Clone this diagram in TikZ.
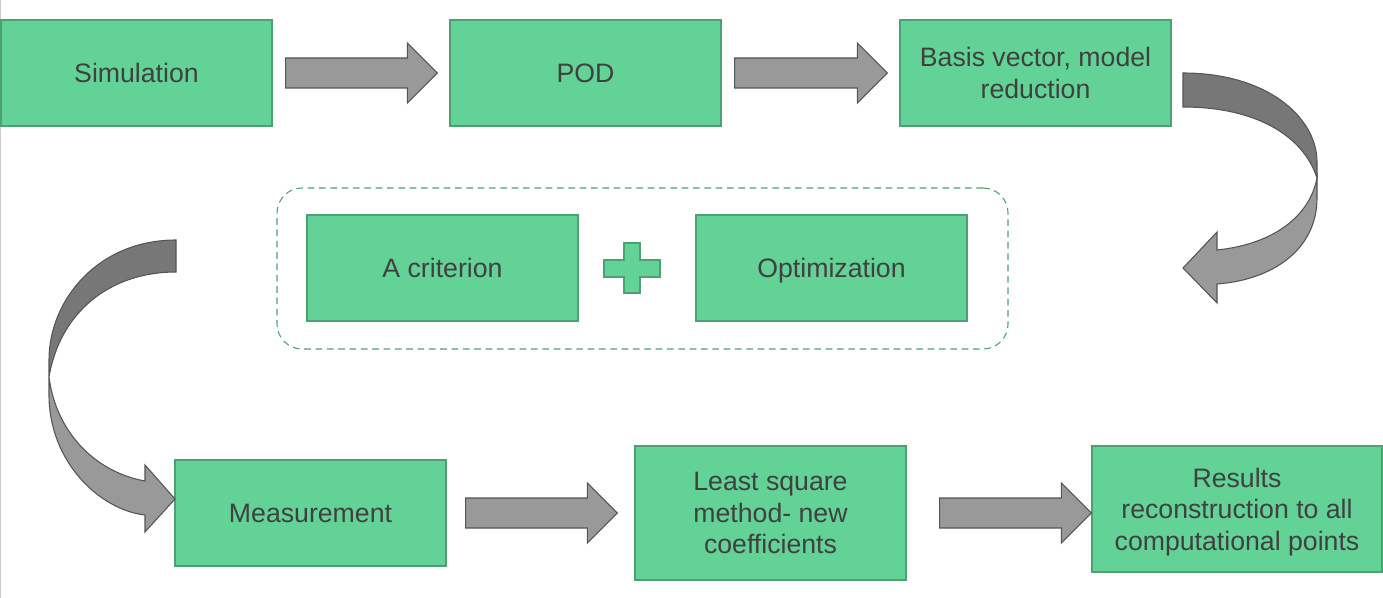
\documentclass[tikz,border=0pt]{standalone}
\usepackage{fontspec}
\setmainfont{Liberation Sans}
\usetikzlibrary{calc}
\definecolor{boxfill}{RGB}{98,210,150}
\definecolor{boxline}{RGB}{78,160,116}
\definecolor{txt}{RGB}{64,64,64}
\definecolor{arrfill}{RGB}{153,153,153}
\definecolor{arrdark}{RGB}{119,119,119}
\definecolor{arrline}{RGB}{85,85,85}
\definecolor{edge}{RGB}{205,205,205}
\tikzset{
  box/.style={draw=boxline, fill=boxfill, line width=0.9pt, text=txt, align=center,
    inner sep=0pt, minimum width=203.25pt, minimum height=79.5pt,
    font=\fontsize{20}{23.6}\selectfont},
  blockarr/.style={draw=arrline, fill=arrfill, line width=0.8pt, line join=miter},
  curvedark/.style={draw=arrline, fill=arrdark, line width=0.8pt},
  curvelight/.style={draw=arrline, fill=arrfill, line width=0.8pt},
  groupbox/.style={draw=boxline, dashed, dash pattern=on 5pt off 3.5pt, line width=0.8pt,
    rounded corners=18.75pt, inner sep=0pt, minimum width=548.25pt, minimum height=120.75pt},
  plus/.style={draw=boxline, fill=boxfill, line width=0.9pt}
}
% #1 from node, #2 to node, #3 tail gap, #4 tip gap
\newcommand\blockarrow[4]{%
  \coordinate (s) at ($(#1.east)+(#3,0)$);
  \coordinate (t) at ($(#1.east -| #2.west)+(-#4,0)$);
  \draw[blockarr] ($(s)+(0,-15)$) -- ($(t)+(-30,-15)$) -- ($(t)+(-30,-30)$) -- (t)
    -- ($(t)+(-30,30)$) -- ($(t)+(-30,15)$) -- ($(s)+(0,15)$) -- cycle;}
\begin{document}
\begin{tikzpicture}[x=0.75pt, y=-0.75pt]
\useasboundingbox (0,0) rectangle (1383,598);
\draw[edge, line width=0.75pt] (0.5,0) -- (0.5,598);

\node[box] (sim) at (136.5,73) {Simulation};
\node[box] (pod) at (585.5,73) {POD};
\node[box] (basis) at (1035.5,73) {Basis vector, model\\reduction};
\node[groupbox] (group) at (642.5,268.5) {};
\node[box] (crit) at (442.5,268) {A criterion};
\node[box] (opt) at (831.5,268) {\smash{Optimization}\vphantom{A}};
\node[box] (meas) at (310.5,513) {Measurement};
\node[box, minimum height=100.5pt] (lsq) at (770.5,513) {Least square\\method- new\\coefficients};
\node[box, minimum width=217.5pt, minimum height=94.5pt] (res) at (1237,509) {Results\\reconstruction to all\\\smash{computational points}};

% plus sign
\draw[plus] (624,243) -- (640,243) -- (640,260) -- (660,260) -- (660,277) -- (640,277)
  -- (640,293) -- (624,293) -- (624,277) -- (604,277) -- (604,260) -- (624,260) -- cycle;

\blockarrow{sim}{pod}{13}{12}
\blockarrow{pod}{basis}{13}{12}
\blockarrow{meas}{lsq}{19}{17}
\blockarrow{lsq}{res}{33}{0}

% right curved arrow
\draw[curvedark] (1183,73) .. controls (1268,73) and (1317,118) .. (1317,162) -- (1317,178)
  .. controls (1303,135) and (1255,107) .. (1183,107) -- cycle;
\draw[curvelight] (1317,178) -- (1317,198) .. controls (1317,250) and (1272,280) .. (1217,284)
  -- (1217,303) -- (1183,268) -- (1217,232) -- (1217,250)
  .. controls (1275,244) and (1310,215) .. (1317,178) -- cycle;

% left curved arrow
\draw[curvedark] (176,240) .. controls (98,240) and (49,300) .. (49,360) -- (49,377)
  .. controls (60,312) and (110,272) .. (176,272) -- cycle;
\draw[curvelight] (49,377) -- (49,395) .. controls (49,462) and (100,510) .. (145,515)
  -- (145,532) -- (175,499) -- (145,465) -- (145,481)
  .. controls (95,472) and (56,432) .. (49,377) -- cycle;
\end{tikzpicture}
\end{document}
